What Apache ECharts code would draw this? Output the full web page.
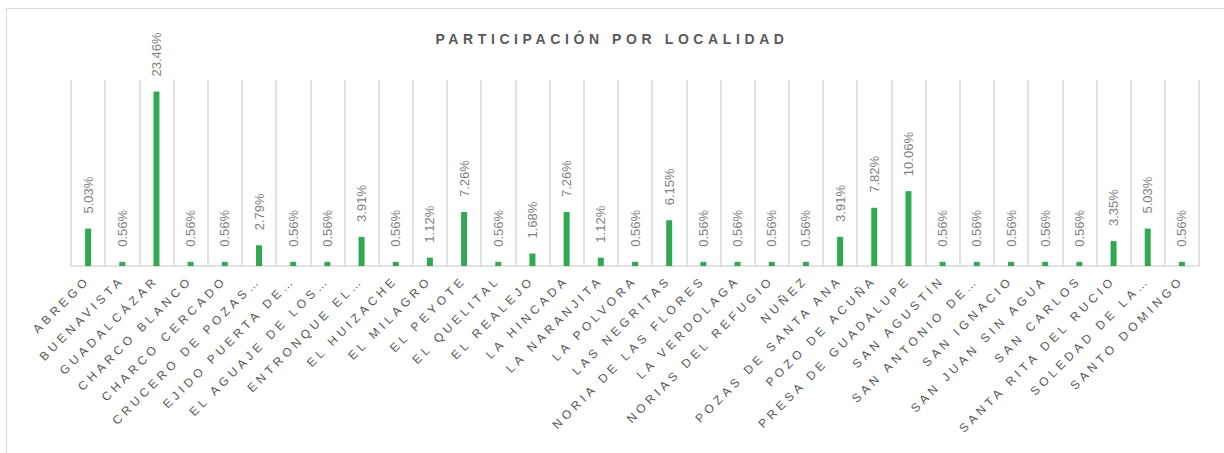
<!DOCTYPE html>
<html>
<head>
<meta charset="utf-8">
<script src="https://cdn.jsdelivr.net/npm/echarts@6/dist/echarts.min.js"></script>
<style>
  html, body { margin: 0; padding: 0; background: #fff; }
  #chart { width: 1224px; height: 453px; }
  /* Excel style letter spacing for title and category labels */
  #chart text[fill="#595959"] { letter-spacing: 4.6px; }
  #chart text[fill="#585858"] { letter-spacing: 4px; }
</style>
</head>
<body>
<div id="chart"></div>
<script>
var localidades = [
  "ABREGO", "BUENAVISTA", "GUADALCÁZAR", "CHARCO BLANCO", "CHARCO CERCADO",
  "CRUCERO DE POZAS…", "EJIDO PUERTA DE…", "EL AGUAJE DE LOS…", "ENTRONQUE EL…",
  "EL HUIZACHE", "EL MILAGRO", "EL PEYOTE", "EL QUELITAL", "EL REALEJO",
  "LA HINCADA", "LA NARANJITA", "LA POLVORA", "LAS NEGRITAS", "NORIA DE LAS FLORES",
  "LA VERDOLAGA", "NORIAS DEL REFUGIO", "NUÑEZ", "POZAS DE SANTA ANA", "POZO DE ACUÑA",
  "PRESA DE GUADALUPE", "SAN AGUSTÍN", "SAN ANTONIO DE…", "SAN IGNACIO",
  "SAN JUAN SIN AGUA", "SAN CARLOS", "SANTA RITA DEL RUCIO", "SOLEDAD DE LA…",
  "SANTO DOMINGO"
];
var participacion = [
  5.03, 0.56, 23.46, 0.56, 0.56,
  2.79, 0.56, 0.56, 3.91,
  0.56, 1.12, 7.26, 0.56, 1.68,
  7.26, 1.12, 0.56, 6.15, 0.56,
  0.56, 0.56, 0.56, 3.91, 7.82,
  10.06, 0.56, 0.56, 0.56,
  0.56, 0.56, 3.35, 5.03,
  0.56
];

var fuente = "'Liberation Sans', Arial, sans-serif";

var option = {
  backgroundColor: "#fff",
  animation: false,
  title: {
    text: "PARTICIPACIÓN POR LOCALIDAD",
    left: "center",
    top: 27,
    textStyle: {
      color: "#595959",
      fontSize: 14,
      fontWeight: "bold",
      fontFamily: fuente
    }
  },
  graphic: [
    {
      type: "rect",
      shape: { x: 6.5, y: 8.5, width: 1240, height: 460 },
      style: { fill: "none", stroke: "#d9d9d9", lineWidth: 1 },
      silent: true
    }
  ],
  grid: {
    left: 71,
    right: 25,
    top: 80,
    bottom: 187
  },
  xAxis: {
    type: "category",
    data: localidades,
    boundaryGap: true,
    axisLine: { lineStyle: { color: "#d9d9d9", width: 1.5 } },
    axisTick: { show: false },
    splitLine: { show: true, lineStyle: { color: "#d9d9d9", width: 1.5 } },
    axisLabel: {
      interval: 0,
      rotate: 45,
      margin: 12,
      color: "#585858",
      fontSize: 12,
      fontFamily: fuente
    }
  },
  yAxis: {
    type: "value",
    min: 0,
    max: 25,
    show: false,
    splitLine: { show: false }
  },
  series: [
    {
      type: "bar",
      data: participacion,
      barWidth: 6,
      itemStyle: { color: "#30a952" },
      label: {
        show: true,
        position: "top",
        rotate: 90,
        align: "left",
        verticalAlign: "middle",
        distance: 15,
        color: "#7f7f7f",
        fontSize: 13,
        fontFamily: fuente,
        formatter: function (p) {
          return p.value.toFixed(2) + "%";
        }
      }
    }
  ]
};

var myChart = echarts.init(document.getElementById("chart"), null, { renderer: "svg" });
myChart.setOption(option);
</script>
</body>
</html>
